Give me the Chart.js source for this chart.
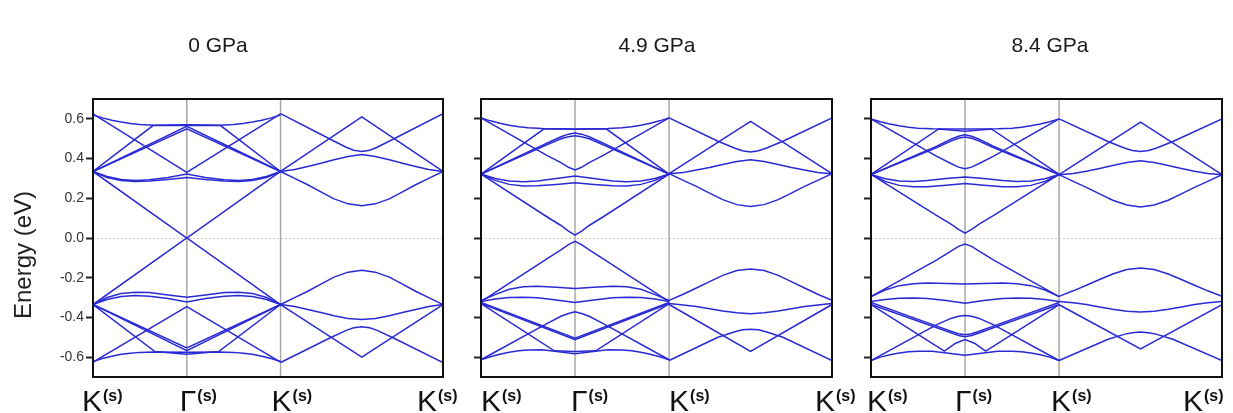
<!DOCTYPE html>
<html>
<head>
<meta charset="utf-8">
<script src="https://cdn.jsdelivr.net/npm/chart.js@4.4.0/dist/chart.umd.min.js"></script>
<style>
  body { margin: 0; background: #fff; width: 1233px; height: 413px; position: relative; overflow: hidden; }
  canvas { position: absolute; top: 0; }
</style>
</head>
<body>
<canvas id="p0" width="470" height="413" style="left:0px"></canvas>
<canvas id="p1" width="410" height="413" style="left:450px"></canvas>
<canvas id="p2" width="393" height="413" style="left:840px"></canvas>
<script>
// path: K(s) - Gamma(s) - K(s) - K(s), in units of |K-Gamma|
const kTicks = [0, 1, 2, 3.732];
const kTickNames = ['K', 'Γ', 'K', 'K'];
const yTicks = [-0.6, -0.4, -0.2, 0.0, 0.2, 0.4, 0.6];
const panelTitles = ['0 GPa', '4.9 GPa', '8.4 GPa'];

// k grids the bands are sampled on
const kV = [0, 1, 2];
const kMV = [2, 2.866, 3.732];
const kPair = [0, 0.15, 0.3, 0.45, 0.6, 0.8, 1, 1.2, 1.4, 1.55, 1.7, 1.85, 2];
const kEdge = [0, 0.1, 0.2, 0.3, 0.4, 0.5, 0.65, 1, 1.35, 1.5, 1.6, 1.7, 1.8, 1.9, 2];
const kRound = [0, 0.7, 0.85, 0.93, 1, 1.07, 1.15, 1.3, 2];
const kM = [2, 2.15, 2.29, 2.43, 2.57, 2.72, 2.866, 3.01, 3.16, 3.3, 3.44, 3.58, 3.732];
const kMRound = [2, 2.52, 2.7, 2.78, 2.866, 2.95, 3.03, 3.21, 3.732];
const kKinkUp0 = [0, 0.64, 1, 1.36, 2];
const kKinkDn0 = [0, 0.66, 1, 1.34, 2];
const kKinkUp49 = [0, 0.67, 1, 1.33, 2];
const kKinkDn49 = [0, 0.78, 1, 1.22, 2];
const kKinkUp84 = [0, 0.72, 1, 1.28, 2];
const kKinkDn84 = [0, 0.78, 0.9, 1, 1.1, 1.22, 2];

// energies (eV), 0 GPa
const bands0 = [
  [kV, [0.335, 0.0, 0.335]],
  [kV, [-0.335, 0.0, -0.335]],
  [kPair, [0.335, 0.305, 0.29, 0.285, 0.287, 0.295, 0.305, 0.295, 0.287, 0.285, 0.29, 0.305, 0.335]],
  [kPair, [0.335, 0.31, 0.295, 0.29, 0.293, 0.305, 0.322, 0.305, 0.293, 0.29, 0.295, 0.31, 0.335]],
  [kPair, [-0.335, -0.3, -0.28, -0.273, -0.275, -0.287, -0.298, -0.287, -0.275, -0.273, -0.28, -0.3, -0.335]],
  [kPair, [-0.335, -0.31, -0.295, -0.29, -0.293, -0.305, -0.322, -0.305, -0.293, -0.29, -0.295, -0.31, -0.335]],
  [kV, [0.625, 0.33, 0.625]],
  [kV, [-0.625, -0.345, -0.625]],
  [kV, [0.335, 0.55, 0.335]],
  [kV, [0.335, 0.562, 0.335]],
  [kV, [-0.335, -0.553, -0.335]],
  [kV, [-0.335, -0.567, -0.335]],
  [kKinkUp0, [0.335, 0.566, 0.568, 0.566, 0.335]],
  [kKinkDn0, [-0.335, -0.572, -0.585, -0.572, -0.335]],
  [kEdge, [0.62, 0.605, 0.593, 0.584, 0.577, 0.572, 0.568, 0.57, 0.568, 0.572, 0.577, 0.584, 0.593, 0.605, 0.62]],
  [kEdge, [-0.622, -0.607, -0.595, -0.586, -0.58, -0.576, -0.574, -0.575, -0.574, -0.576, -0.58, -0.586, -0.595, -0.607, -0.622]],
  [kMRound, [0.626, 0.5, 0.457, 0.442, 0.436, 0.442, 0.457, 0.5, 0.626]],
  [kMRound, [-0.627, -0.505, -0.465, -0.452, -0.447, -0.452, -0.465, -0.505, -0.627]],
  [kMV, [0.335, 0.61, 0.335]],
  [kMV, [-0.335, -0.6, -0.335]],
  [kM, [0.335, 0.345, 0.36, 0.376, 0.394, 0.41, 0.42, 0.41, 0.394, 0.376, 0.36, 0.345, 0.335]],
  [kM, [0.335, 0.3, 0.268, 0.232, 0.197, 0.172, 0.163, 0.172, 0.197, 0.232, 0.268, 0.3, 0.335]],
  [kM, [-0.335, -0.3, -0.268, -0.232, -0.197, -0.172, -0.163, -0.172, -0.197, -0.232, -0.268, -0.3, -0.335]],
  [kM, [-0.335, -0.345, -0.36, -0.375, -0.392, -0.405, -0.41, -0.405, -0.392, -0.375, -0.36, -0.345, -0.335]]
];

// energies (eV), 4.9 GPa
const bands49 = [
  [kRound, [0.322, 0.107, 0.063, 0.035, 0.015, 0.035, 0.063, 0.107, 0.322]],
  [kRound, [-0.32, -0.105, -0.06, -0.033, -0.017, -0.033, -0.06, -0.105, -0.32]],
  [kPair, [0.322, 0.3, 0.287, 0.283, 0.287, 0.3, 0.312, 0.3, 0.287, 0.283, 0.287, 0.3, 0.322]],
  [kPair, [0.322, 0.29, 0.27, 0.262, 0.263, 0.27, 0.278, 0.27, 0.263, 0.262, 0.27, 0.29, 0.322]],
  [kPair, [-0.315, -0.285, -0.258, -0.245, -0.243, -0.248, -0.254, -0.248, -0.243, -0.245, -0.258, -0.285, -0.315]],
  [kPair, [-0.32, -0.307, -0.3, -0.298, -0.301, -0.312, -0.325, -0.312, -0.301, -0.298, -0.3, -0.307, -0.32]],
  [kRound, [0.605, 0.416, 0.38, 0.356, 0.343, 0.356, 0.38, 0.416, 0.605]],
  [kRound, [-0.613, -0.431, -0.394, -0.38, -0.372, -0.38, -0.394, -0.431, -0.613]],
  [kRound, [0.322, 0.469, 0.5, 0.51, 0.515, 0.51, 0.5, 0.469, 0.322]],
  [kRound, [0.322, 0.477, 0.51, 0.523, 0.529, 0.523, 0.51, 0.477, 0.322]],
  [kV, [-0.325, -0.505, -0.325]],
  [kV, [-0.33, -0.512, -0.33]],
  [kKinkUp49, [0.322, 0.55, 0.548, 0.55, 0.322]],
  [kKinkDn49, [-0.33, -0.568, -0.572, -0.568, -0.33]],
  [kEdge, [0.605, 0.59, 0.578, 0.568, 0.56, 0.555, 0.551, 0.549, 0.551, 0.555, 0.56, 0.568, 0.578, 0.59, 0.605]],
  [kEdge, [-0.613, -0.598, -0.585, -0.575, -0.568, -0.564, -0.563, -0.583, -0.563, -0.564, -0.568, -0.575, -0.585, -0.598, -0.613]],
  [kMRound, [0.605, 0.487, 0.452, 0.439, 0.433, 0.439, 0.452, 0.487, 0.605]],
  [kMRound, [-0.617, -0.5, -0.472, -0.462, -0.459, -0.462, -0.472, -0.5, -0.617]],
  [kMV, [0.324, 0.587, 0.324]],
  [kMV, [-0.335, -0.571, -0.335]],
  [kM, [0.324, 0.33, 0.342, 0.355, 0.37, 0.385, 0.394, 0.385, 0.37, 0.355, 0.342, 0.33, 0.324]],
  [kM, [0.324, 0.29, 0.26, 0.226, 0.193, 0.168, 0.159, 0.168, 0.193, 0.226, 0.26, 0.29, 0.324]],
  [kM, [-0.314, -0.283, -0.252, -0.22, -0.188, -0.164, -0.156, -0.164, -0.188, -0.22, -0.252, -0.283, -0.314]],
  [kM, [-0.33, -0.337, -0.345, -0.356, -0.368, -0.377, -0.381, -0.377, -0.368, -0.356, -0.345, -0.337, -0.33]]
];

// energies (eV), 8.4 GPa
const bands84 = [
  [kRound, [0.32, 0.113, 0.07, 0.043, 0.025, 0.043, 0.07, 0.113, 0.32]],
  [kRound, [-0.295, -0.11, -0.066, -0.042, -0.03, -0.042, -0.066, -0.11, -0.295]],
  [kPair, [0.32, 0.298, 0.287, 0.285, 0.29, 0.3, 0.307, 0.3, 0.29, 0.285, 0.287, 0.298, 0.32]],
  [kPair, [0.32, 0.285, 0.265, 0.258, 0.258, 0.266, 0.274, 0.266, 0.258, 0.258, 0.265, 0.285, 0.32]],
  [kPair, [-0.295, -0.262, -0.24, -0.23, -0.227, -0.229, -0.232, -0.229, -0.227, -0.23, -0.24, -0.262, -0.295]],
  [kPair, [-0.32, -0.31, -0.303, -0.302, -0.305, -0.315, -0.328, -0.315, -0.305, -0.302, -0.303, -0.31, -0.32]],
  [kRound, [0.6, 0.411, 0.375, 0.357, 0.349, 0.357, 0.375, 0.411, 0.6]],
  [kRound, [-0.617, -0.436, -0.405, -0.394, -0.39, -0.394, -0.405, -0.436, -0.617]],
  [kRound, [0.32, 0.455, 0.488, 0.502, 0.509, 0.502, 0.488, 0.455, 0.32]],
  [kRound, [0.32, 0.462, 0.497, 0.512, 0.52, 0.512, 0.497, 0.462, 0.32]],
  [kRound, [-0.325, -0.444, -0.47, -0.482, -0.487, -0.482, -0.47, -0.444, -0.325]],
  [kRound, [-0.335, -0.452, -0.478, -0.491, -0.497, -0.491, -0.478, -0.452, -0.335]],
  [kKinkUp84, [0.32, 0.549, 0.537, 0.549, 0.32]],
  [kKinkDn84, [-0.335, -0.57, -0.53, -0.512, -0.53, -0.57, -0.335]],
  [kEdge, [0.6, 0.585, 0.574, 0.565, 0.558, 0.553, 0.55, 0.549, 0.55, 0.553, 0.558, 0.565, 0.574, 0.585, 0.6]],
  [kEdge, [-0.617, -0.6, -0.588, -0.579, -0.573, -0.57, -0.57, -0.59, -0.57, -0.57, -0.573, -0.579, -0.588, -0.6, -0.617]],
  [kMRound, [0.6, 0.486, 0.452, 0.441, 0.436, 0.441, 0.452, 0.486, 0.6]],
  [kMRound, [-0.617, -0.51, -0.484, -0.477, -0.474, -0.477, -0.484, -0.51, -0.617]],
  [kMV, [0.319, 0.584, 0.319]],
  [kMV, [-0.336, -0.559, -0.336]],
  [kM, [0.319, 0.325, 0.336, 0.35, 0.365, 0.38, 0.389, 0.38, 0.365, 0.35, 0.336, 0.325, 0.319]],
  [kM, [0.319, 0.285, 0.255, 0.222, 0.19, 0.166, 0.156, 0.166, 0.19, 0.222, 0.255, 0.285, 0.319]],
  [kM, [-0.294, -0.266, -0.238, -0.209, -0.181, -0.159, -0.151, -0.159, -0.181, -0.209, -0.238, -0.266, -0.294]],
  [kM, [-0.32, -0.326, -0.335, -0.347, -0.359, -0.369, -0.373, -0.369, -0.359, -0.347, -0.335, -0.326, -0.32]]
];

const BAND_COLOR = '#2a2ad4';
const FONT = '"Liberation Sans", Arial, sans-serif';

// frame, Gamma/K guide lines, zero line, titles and k-point labels
const panelDecor = {
  id: 'panelDecor',
  beforeDatasetsDraw(chart, args, o) {
    const { ctx, chartArea: a, scales: { x, y } } = chart;
    ctx.save();
    const y0 = Math.round(y.getPixelForValue(0)) + 0.5;
    ctx.strokeStyle = '#c8c8c8';
    ctx.lineWidth = 1;
    ctx.setLineDash([2, 2]);
    ctx.beginPath();
    ctx.moveTo(a.left, y0);
    ctx.lineTo(a.right, y0);
    ctx.stroke();
    ctx.setLineDash([]);
    ctx.strokeStyle = '#a9a9a9';
    ctx.lineWidth = 1.5;
    [kTicks[1], kTicks[2]].forEach(v => {
      const px = x.getPixelForValue(v);
      ctx.beginPath();
      ctx.moveTo(px, a.top);
      ctx.lineTo(px, a.bottom);
      ctx.stroke();
    });
    ctx.restore();
  },
  afterDraw(chart, args, o) {
    const { ctx, chartArea: a, scales: { x } } = chart;
    ctx.save();
    ctx.strokeStyle = '#111';
    ctx.lineWidth = 2;
    ctx.strokeRect(a.left, a.top, a.right - a.left, a.bottom - a.top);

    ctx.fillStyle = '#1a1a1a';
    ctx.font = '21px ' + FONT;
    ctx.textAlign = 'center';
    ctx.textBaseline = 'middle';
    ctx.fillText(o.title, o.titleX, 46);

    if (o.yTitle) {
      ctx.save();
      ctx.translate(24, 255);
      ctx.rotate(-Math.PI / 2);
      ctx.font = '24px ' + FONT;
      ctx.fillStyle = '#222';
      ctx.fillText(o.yTitle, 0, 0);
      ctx.restore();
    }

    ctx.textAlign = 'left';
    ctx.textBaseline = 'alphabetic';
    kTicks.forEach((v, i) => {
      const px = x.getPixelForValue(v) + o.labelShift[i];
      ctx.font = '30px ' + FONT;
      ctx.fillStyle = '#111';
      ctx.fillText(kTickNames[i], px, 411);
      const w = ctx.measureText(kTickNames[i]).width;
      ctx.font = 'bold 16px ' + FONT;
      ctx.fillText('(s)', px + w + 1, 401);
    });
    ctx.restore();
  }
};

function makePanel(id, bands, deco, padRight, axisWidth, showLabels) {
  new Chart(document.getElementById(id), {
    type: 'line',
    data: {
      datasets: bands.map(([k, e]) => ({
        data: k.map((kv, i) => ({ x: kv, y: e[i] })),
        borderColor: BAND_COLOR,
        borderWidth: 1.5,
        pointRadius: 0,
        tension: 0,
        fill: false
      }))
    },
    options: {
      responsive: false,
      animation: false,
      layout: { padding: { left: 0, right: padRight, top: 99, bottom: 36 } },
      plugins: {
        legend: { display: false },
        tooltip: { enabled: false },
        panelDecor: deco
      },
      scales: {
        x: { type: 'linear', min: kTicks[0], max: kTicks[3], display: false },
        y: {
          min: -0.7,
          max: 0.7,
          afterBuildTicks: s => { s.ticks = yTicks.map(v => ({ value: v })); },
          afterFit: s => { s.width = axisWidth; },
          border: { display: false },
          grid: { drawOnChartArea: false, drawTicks: true, tickLength: 7, tickColor: '#222', tickWidth: 2 },
          ticks: {
            display: showLabels,
            padding: 2,
            color: '#333',
            font: { family: FONT, size: 14 },
            callback: v => v.toFixed(1)
          }
        }
      }
    },
    plugins: [panelDecor]
  });
}

makePanel('p0', bands0, { title: panelTitles[0], titleX: 218, yTitle: 'Energy (eV)', labelShift: [-11, -7, -9, -26] }, 27, 93, true);
makePanel('p1', bands49, { title: panelTitles[1], titleX: 207, yTitle: null, labelShift: [0, -4, 0, -17] }, 28, 31, false);
makePanel('p2', bands84, { title: panelTitles[2], titleX: 210, yTitle: null, labelShift: [-4, -10, -8, -39] }, 11, 31, false);
</script>
</body>
</html>
